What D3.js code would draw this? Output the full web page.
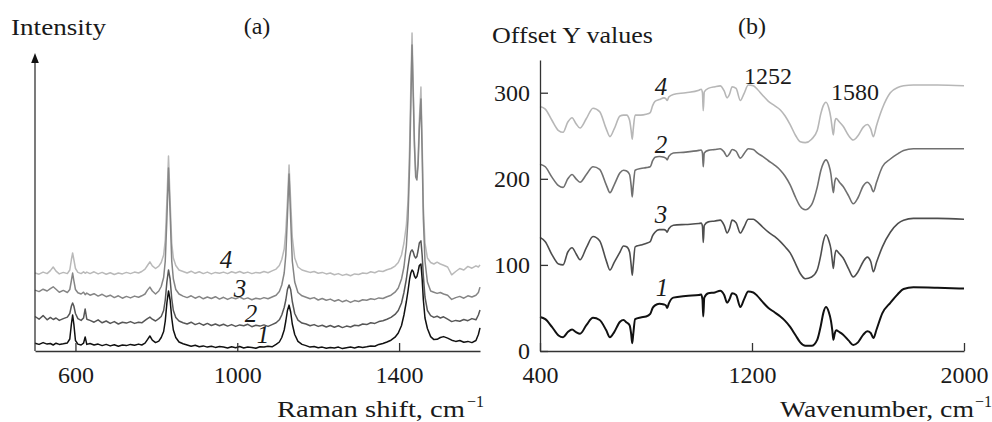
<!DOCTYPE html>
<html lang="en">
<head>
<meta charset="UTF-8">
<title>Raman and IR spectra</title>
<script src="https://cdnjs.cloudflare.com/ajax/libs/d3/7.8.5/d3.min.js"></script>
<style>
  html, body { margin: 0; padding: 0; background: #fff; }
  svg text { font-family: "Liberation Serif", "Times New Roman", serif; fill: #1a1a1a; }
  .axis path, .axis line { stroke: #333; stroke-width: 1.3; }
  .axis text { font-size: 24px; font-family: "Liberation Serif", serif; fill: #1a1a1a; }
  .curve { fill: none; stroke-linejoin: round; }
  .num { font-style: italic; font-size: 25px; }
</style>
</head>
<body>
<script>
// ---- panel (a): Raman spectra, shared x values + one intensity array per sample ----
var ramanShift = [
  500, 510, 520, 530, 538, 545, 552, 560, 570, 580,
  586, 590, 593, 596, 600, 606, 614, 620, 624, 628,
  636, 646, 656, 666, 676, 686, 696, 706, 716, 726,
  736, 746, 756, 764, 772, 778, 784, 790, 798, 806,
  812, 818, 822, 826, 830, 834, 838, 842, 848, 856,
  866, 876, 886, 896, 906, 916, 926, 936, 946, 956,
  966, 976, 986, 996, 1006, 1016, 1026, 1036, 1046, 1056,
  1066, 1076, 1086, 1096, 1104, 1110, 1116, 1120, 1124, 1128,
  1132, 1136, 1142, 1150, 1160, 1170, 1180, 1190, 1200, 1210,
  1220, 1230, 1240, 1250, 1260, 1270, 1280, 1290, 1300, 1310,
  1320, 1330, 1340, 1350, 1360, 1370, 1380, 1390, 1398, 1406,
  1412, 1418, 1422, 1426, 1429, 1432, 1435, 1438, 1441, 1444,
  1447, 1450, 1454, 1457, 1460, 1464, 1470, 1478, 1486, 1494,
  1502, 1510, 1520, 1530, 1540, 1550, 1560, 1570, 1580, 1590,
  1596, 1600
];

var raman1 = [
  2.6, 2.2, 2.8, 2.3, 2.5, 2.0, 2.6, 2.2, 2.4, 2.7,
  4, 9, 12, 9, 3.5, 2.3, 2.0, 2.6, 4.7, 2.2,
  2.5, 2.0, 2.3, 1.8, 2.2, 1.7, 2.1, 1.6, 2.0, 1.8,
  2.2, 1.9, 2.3, 2.0, 2.6, 3.8, 5.0, 3.6, 2.8, 3.3,
  4.5, 6.5, 10, 16, 20, 17, 11, 7, 4.5, 3.0,
  2.4, 2.0, 1.6, 1.9, 1.4, 1.7, 1.3, 1.6, 1.2, 1.5,
  1.3, 1.0, 1.4, 1.1, 1.5, 1.0, 1.3, 1.2, 0.9, 1.4,
  1.3, 1.6, 1.4, 2.2, 3.0, 4.5, 7, 10, 13.5, 15.3,
  13, 9, 5.5, 3.2, 2.2, 1.8, 1.3, 1.5, 1.1, 1.3,
  0.9, 1.2, 1.0, 1.3, 0.8, 1.1, 1.3, 1.0, 1.4, 1.2,
  1.4, 1.7, 1.6, 2.2, 2.5, 3.0, 3.6, 4.6, 6.0, 8.5,
  12, 16.5, 20, 24, 26, 27, 26.5, 25, 24.3, 24.8,
  26.5, 28.5, 29, 24, 17, 11, 7.5, 4.8, 3.8, 3.9,
  4.5, 4.8, 4.3, 3.6, 3.2, 3.5, 2.9, 3.2, 2.8, 3.5,
  5.5, 7.7
];

var raman2 = [
  11.5, 10.6, 11.8, 10.4, 11.2, 10.5, 11.0, 10.2, 10.8, 11.3,
  12.5, 15, 16, 15, 12.5, 10.8, 10.2, 11.0, 14, 10.6,
  10.2, 9.6, 10.4, 9.4, 10.0, 9.2, 9.8, 9.0, 9.6, 9.3,
  9.8, 9.2, 9.6, 9.4, 10.2, 10.8, 11.3, 10.6, 10.0, 10.8,
  11.5, 13.5, 17, 23, 27, 24, 17.5, 13.5, 11.2, 10.0,
  9.4, 9.0, 9.6, 8.8, 9.3, 8.6, 9.2, 8.5, 9.0, 8.4,
  8.9, 8.3, 8.8, 8.2, 8.7, 8.4, 8.9, 8.1, 8.6, 8.3,
  8.7, 8.2, 8.8, 9.4, 10.4, 12, 14.5, 17, 20.5, 22,
  20.5, 16.5, 12.5, 10.3, 9.3, 9.0, 8.4, 8.8, 8.2, 8.6,
  8.0, 8.5, 7.9, 8.4, 7.8, 8.3, 8.0, 8.6, 8.4, 9.0,
  8.8, 9.4, 9.2, 9.8, 10.1, 10.6, 11.2, 12.2, 13.5, 16,
  19.5, 24, 28, 31.5, 33.2, 33.7, 33, 31.6, 31, 31.5,
  33.5, 36, 36.7, 32, 25, 18, 13.5, 11.8, 11.2, 11.6,
  11.0, 11.4, 10.6, 9.8, 10.2, 9.9, 10.5, 10.1, 10.8, 10.4,
  12.0, 13.7
];

var raman3 = [
  20.3, 19.8, 20.6, 20.0, 20.8, 21.4, 20.6, 19.6, 20.2, 19.5,
  20.5, 23.5, 26, 23.5, 20.5, 19.4, 19.0, 19.6, 18.8, 19.3,
  18.6, 19.1, 18.3, 18.9, 18.1, 18.6, 17.8, 18.4, 17.6, 18.2,
  17.7, 18.3, 17.9, 18.4, 19.0, 20.3, 21.3, 20.0, 19.0, 20.0,
  21.5, 24.5, 30, 44, 61, 46, 30, 24, 20.5, 19.0,
  18.3, 17.8, 18.4, 17.6, 18.2, 17.4, 18.0, 17.5, 18.1, 17.3,
  17.9, 17.2, 17.8, 17.4, 18.0, 17.3, 17.7, 17.1, 17.6, 17.3,
  17.8, 17.4, 18.0, 18.6, 19.8, 22, 26, 32, 45, 59,
  44, 30, 23, 19.5, 18.4, 17.9, 17.4, 17.8, 17.0, 17.5,
  16.9, 17.3, 16.6, 17.1, 16.4, 16.9, 16.2, 16.8, 16.5, 17.1,
  16.9, 17.4, 17.2, 17.7, 17.5, 18.1, 18.6, 19.6, 21, 24,
  28, 35, 44, 62, 82, 102, 85, 68, 58, 57,
  62, 74, 84, 66, 44, 30, 23, 20, 19.6, 19.2,
  19.5, 19.0, 18.6, 17.2, 17.8, 18.2, 17.6, 18.4, 18.0, 18.6,
  19.5, 21.3
];

var raman4 = [
  26.0, 25.6, 26.3, 25.8, 26.8, 28.0, 26.6, 25.7, 26.2, 25.8,
  27, 30.5, 32.7, 30.5, 27.5, 26.2, 25.8, 26.4, 25.9, 26.3,
  25.8, 26.4, 25.7, 26.2, 25.6, 26.1, 25.5, 26.0, 25.7, 26.2,
  25.8, 26.3, 26.0, 26.5, 27.3, 28.5, 29.7, 28.4, 27.5, 28.3,
  29.5, 32, 37, 50, 65, 50, 36, 31, 28.5, 27.0,
  26.5, 26.0, 26.6, 25.9, 26.4, 25.8, 26.3, 25.7, 26.2, 25.9,
  26.3, 25.8, 26.4, 26.0, 26.5, 25.9, 26.3, 25.8, 26.2, 26.0,
  26.5, 26.1, 26.7, 27.3, 28.5, 30.5, 34, 40, 50, 62,
  50, 38, 31, 28.0, 27.0, 26.6, 26.2, 26.5, 25.9, 26.2,
  25.7, 26.0, 25.4, 25.8, 25.2, 25.6, 25.1, 25.7, 25.5, 26.0,
  25.8, 26.4, 26.1, 26.7, 26.5, 27.1, 27.5, 28.3, 29.5, 32,
  36, 42, 50, 68, 88, 106, 88, 70, 60, 58,
  64, 77, 88, 70, 48, 36, 31, 29.5, 29.0, 29.6,
  29.0, 28.6, 28.0, 25.4, 26.5, 27.5, 27.0, 28.2, 27.6, 28.4,
  28.0, 28.7
];

// ---- panel (b): IR spectra with offset y values ----
var wavenumber = [
  400, 420, 445, 470, 487, 505, 521, 536, 551, 575,
  600, 625, 650, 664, 680, 702, 715, 727, 738, 744,
  748, 752, 759, 780, 800, 816, 825, 834, 850, 868,
  875, 880, 886, 903, 950, 1000, 1008, 1013, 1016, 1020,
  1035, 1060, 1080, 1095, 1106, 1115, 1125, 1140, 1156, 1170,
  1186, 1205, 1220, 1240, 1262, 1285, 1307, 1325, 1344, 1365,
  1382, 1401, 1425, 1446, 1460, 1469, 1479, 1490, 1498, 1503,
  1507, 1512, 1517, 1530, 1544, 1565, 1582, 1600, 1620, 1635,
  1648, 1658, 1670, 1692, 1722, 1750, 1772, 1809, 1900, 2000
];

var ir1 = [
  39.5, 37, 28, 18, 16, 22, 25, 22, 20, 30,
  38.5, 36, 24, 16, 22, 34, 36, 33, 30, 20,
  9, 20, 37, 39, 40, 43, 50, 53, 55, 54,
  53, 50, 55, 62, 64, 65, 65.5, 60, 40, 62,
  67, 68, 70, 65, 56, 60, 67, 65, 51, 60,
  69, 68, 64, 57, 50, 45, 40, 35, 28, 18,
  10, 6, 6, 13, 30, 44, 51, 45, 35, 24,
  13, 20, 24, 22, 19, 12, 7, 10, 19, 23,
  21, 15, 25, 44, 56, 66, 72, 74, 73.5, 72.5
];

var ir2 = [
  217, 214, 202, 192, 190, 200, 205, 200, 196, 205,
  214, 211, 193, 184, 193, 207, 210, 209, 205, 192,
  179, 192, 210, 212, 213, 214, 221, 225, 226, 225,
  224, 222, 226, 230, 231, 233, 233.5, 230, 214, 230,
  233, 234, 235, 231, 226, 229, 234, 232, 224, 229,
  235, 234, 230, 226, 221, 216, 210, 203, 193, 178,
  168, 164, 170, 190, 210, 218, 222, 216, 205, 192,
  184, 196, 201, 196, 191, 180, 171, 178, 192, 196,
  192, 185, 196, 214, 223, 229, 233, 235, 235, 235
];

var ir3 = [
  132, 127, 112, 101, 100, 115, 120, 113, 106, 120,
  133, 128, 105, 94, 103, 115, 122, 121, 115, 100,
  88, 100, 121, 123, 125, 127, 134, 138, 141, 141,
  140, 138, 142, 146, 147, 148, 148.5, 145, 126, 146,
  150, 151, 152, 146, 137, 142, 152, 149, 137, 144,
  153, 153, 150, 144, 138, 133, 127, 121, 114, 101,
  90, 84, 86, 94, 112, 127, 135, 128, 118, 105,
  96, 110, 117, 113, 108, 95, 86, 92, 104, 109,
  104, 92, 103, 121, 138, 148, 152, 154, 154, 153
];

var ir4 = [
  284, 281, 268, 256, 254, 266, 271, 264, 259, 270,
  282, 278, 258, 249, 258, 273, 274, 274, 268, 256,
  246, 258, 274, 274, 275, 277, 285, 290, 292, 294,
  293, 291, 295, 298, 300, 303, 304, 300, 279, 301,
  305, 307, 308, 302, 294, 298, 307, 305, 291, 299,
  309, 308, 304, 297, 290, 285, 280, 273, 263, 250,
  243, 242, 246, 256, 276, 285, 289, 282, 270, 258,
  251, 265, 270, 266, 261, 250, 245, 250, 260, 263,
  258, 249, 262, 282, 300, 306, 308, 309, 309, 308
];

var sampleNames = ['1', '2', '3', '4'];
var ramanColors = ['#111111', '#575757', '#858585', '#b9b9b9'];
var irColors = ['#111111', '#707070', '#4e4e4e', '#b7b7b7'];
var ramanTicks = [600, 1000, 1400];
var irXTicks = [400, 1200, 2000];
var irYTicks = [0, 100, 200, 300];
var irMarks = ['1252', '1580'];

var width = 992, height = 422;

var svg = d3.select('body').append('svg')
    .attr('width', width)
    .attr('height', height);

// scales
var xA = d3.scaleLinear().domain([500, 1600]).range([35, 480]);
var yA = d3.scaleLinear().domain([0, 100]).range([351, 51]);
var xB = d3.scaleLinear().domain([400, 2000]).range([540, 964]);
var yB = d3.scaleLinear().domain([0, 338]).range([351, 60]);

// stretched serif title (the original face is wider than Times)
function title(g, x, y, len, str) {
    return g.append('text').attr('x', x).attr('y', y)
        .attr('textLength', len).attr('lengthAdjust', 'spacingAndGlyphs')
        .style('font-size', '24px').text(str);
}

// ===== panel (a) =====
var gA = svg.append('g');

var ramanSets = [raman1, raman2, raman3, raman4];
var lineA = d3.line()
    .x(function (d) { return xA(d[0]); })
    .y(function (d) { return yA(d[1]); });

// draw lighter curves first so black stays on top
[3, 2, 1, 0].forEach(function (i) {
    var pts = ramanShift.map(function (x, k) { return [x, ramanSets[i][k]]; });
    gA.append('path')
        .attr('class', 'curve')
        .attr('d', lineA(pts))
        .attr('stroke', ramanColors[i])
        .attr('stroke-width', 1.5);
});

gA.append('g')
    .attr('class', 'axis')
    .attr('transform', 'translate(0,' + yA(0) + ')')
    .call(d3.axisBottom(xA).tickValues(ramanTicks).tickFormat(d3.format('d'))
        .tickSize(-8).tickSizeOuter(0).tickPadding(15))
    .call(function (g) { g.select('.domain').attr('stroke', '#555'); });

// intensity axis with arrow
var yTop = yA(99.3);
gA.append('line')
    .attr('x1', xA(500)).attr('x2', xA(500))
    .attr('y1', yA(0)).attr('y2', yTop + 6)
    .attr('stroke', '#333').attr('stroke-width', 1.3);
gA.append('path')
    .attr('d', 'M' + xA(500) + ',' + yTop + 'l-3.8,10h7.6z')
    .attr('fill', '#111');

title(gA, 11, 35, 95, 'Intensity');
gA.append('text').attr('x', 257).attr('y', 34)
    .attr('text-anchor', 'middle')
    .style('font-size', '24px').text('(a)');

title(gA, 277, 417, 188, 'Raman shift, cm');
gA.append('text').attr('x', 467).attr('y', 407)
    .style('font-size', '16px').text('\u22121');

// curve numbers in (a)
var labelPosA = [[263, 343], [251, 322], [240, 297], [226, 268]];
sampleNames.forEach(function (n, i) {
    gA.append('text')
        .attr('class', 'num')
        .attr('x', labelPosA[i][0]).attr('y', labelPosA[i][1])
        .attr('text-anchor', 'middle')
        .text(n);
});

// ===== panel (b) =====
var gB = svg.append('g');

var irSets = [ir1, ir2, ir3, ir4];
var lineB = d3.line()
    .x(function (d) { return xB(d[0]); })
    .y(function (d) { return yB(d[1]); })
    .curve(d3.curveMonotoneX);

[3, 2, 1, 0].forEach(function (i) {
    var pts = wavenumber.map(function (x, k) { return [x, irSets[i][k]]; });
    gB.append('path')
        .attr('class', 'curve')
        .attr('d', lineB(pts))
        .attr('stroke', irColors[i])
        .attr('stroke-width', i === 0 ? 2 : 1.6);
});

gB.append('g')
    .attr('class', 'axis')
    .attr('transform', 'translate(0,' + yB(0) + ')')
    .call(d3.axisBottom(xB).tickValues(irXTicks).tickFormat(d3.format('d'))
        .tickSize(-8).tickSizeOuter(0).tickPadding(15));

gB.append('g')
    .attr('class', 'axis')
    .attr('transform', 'translate(' + xB(400) + ',0)')
    .call(d3.axisLeft(yB).tickValues(irYTicks).tickSize(-8).tickSizeOuter(0).tickPadding(10));

title(gB, 492, 43, 161, 'Offset Y values');
gB.append('text').attr('x', 752).attr('y', 34)
    .attr('text-anchor', 'middle')
    .style('font-size', '24px').text('(b)');

title(gB, 780, 417, 194, 'Wavenumber, cm');
gB.append('text').attr('x', 975).attr('y', 407)
    .style('font-size', '16px').text('\u22121');

// band labels
var markPos = [[768, 84], [855, 100]];
irMarks.forEach(function (m, i) {
    gB.append('text')
        .attr('x', markPos[i][0]).attr('y', markPos[i][1])
        .attr('text-anchor', 'middle')
        .style('font-size', '24px')
        .text(m);
});

var labelPosB = [[662, 296], [661, 153], [661, 223], [661, 95]];
sampleNames.forEach(function (n, i) {
    gB.append('text')
        .attr('class', 'num')
        .attr('x', labelPosB[i][0]).attr('y', labelPosB[i][1])
        .attr('text-anchor', 'middle')
        .text(n);
});
</script>
</body>
</html>
